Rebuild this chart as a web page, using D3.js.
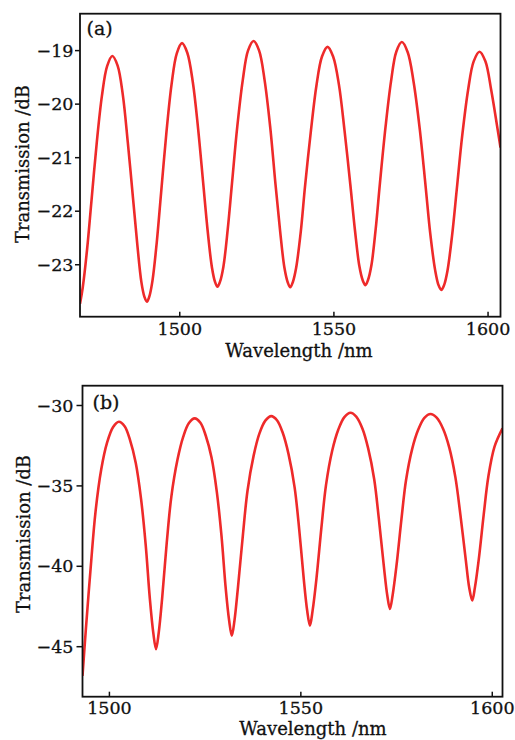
<!DOCTYPE html>
<html><head><meta charset="utf-8">
<script src="https://cdn.jsdelivr.net/npm/d3@7"></script>
<style>
body{margin:0;background:#fff}
svg{display:block}
text{font-family:"DejaVu Serif",serif;fill:#111;stroke:#111;stroke-width:0.3px}
</style>
</head><body>
<svg id="chart" width="515" height="740"></svg>
<script>
// ---------- DATA ----------
const wavelengthA = [1467.8,1468.7,1470.1,1471.5,1473.2,1474.9,1476.6,1478.3,1480.0,1481.7,1483.3,1485.0,1486.4,1487.7,1488.7,1489.5,
  1490.3,1491.3,1492.7,1494.1,1495.8,1497.5,1499.2,1500.9,1502.6,1504.4,1506.1,1507.8,1509.2,1510.6,1511.6,1512.4,
  1513.2,1514.3,1515.7,1517.1,1518.8,1520.6,1522.3,1524.1,1525.9,1527.7,1529.5,1531.2,1532.7,1534.1,1535.2,1536.0,
  1536.8,1537.9,1539.4,1540.8,1542.7,1544.5,1546.3,1548.1,1549.9,1551.8,1553.6,1555.5,1557.0,1558.4,1559.5,1560.4,
  1561.2,1562.3,1563.7,1565.1,1566.9,1568.7,1570.4,1572.2,1574.1,1576.0,1578.0,1579.9,1581.4,1583.0,1584.1,1585.0,
  1585.9,1587.0,1588.5,1590.0,1591.8,1593.7,1595.5,1597.4,1599.3,1601.2,1603.1,1604.2];
const transmissionA = [-23.74,-23.43,-22.72,-21.83,-20.75,-19.86,-19.30,-19.11,-19.29,-19.84,-20.72,-21.77,-22.64,-23.33,-23.61,-23.70,
  -23.60,-23.31,-22.59,-21.67,-20.56,-19.64,-19.06,-18.87,-19.05,-19.60,-20.46,-21.51,-22.37,-23.06,-23.33,-23.42,
  -23.33,-23.05,-22.36,-21.49,-20.44,-19.56,-19.01,-18.83,-19.01,-19.57,-20.44,-21.50,-22.37,-23.06,-23.34,-23.43,
  -23.34,-23.07,-22.40,-21.54,-20.51,-19.66,-19.12,-18.94,-19.12,-19.65,-20.50,-21.52,-22.37,-23.03,-23.30,-23.39,
  -23.30,-23.03,-22.35,-21.48,-20.44,-19.58,-19.03,-18.85,-19.04,-19.59,-20.47,-21.54,-22.42,-23.11,-23.39,-23.48,
  -23.39,-23.12,-22.46,-21.61,-20.59,-19.74,-19.21,-19.03,-19.21,-19.75,-20.42,-20.82];

const wavelengthB = [1493.1,1494.0,1495.3,1496.5,1498.0,1499.5,1501.1,1502.6,1504.1,1505.5,1507.0,1508.4,1509.6,1510.7,1511.6,1512.3,
  1513.0,1513.9,1515.1,1516.3,1517.9,1519.4,1520.9,1522.4,1523.9,1525.3,1526.8,1528.2,1529.4,1530.5,1531.4,1532.1,
  1532.8,1533.7,1535.0,1536.2,1537.8,1539.3,1540.9,1542.4,1543.9,1545.4,1546.9,1548.5,1549.7,1550.9,1551.8,1552.5,
  1553.2,1554.2,1555.5,1556.7,1558.3,1559.9,1561.5,1563.1,1564.6,1566.2,1567.7,1569.3,1570.5,1571.8,1572.7,1573.4,
  1574.1,1575.1,1576.4,1577.6,1579.2,1580.8,1582.4,1584.0,1585.6,1587.3,1588.9,1590.5,1591.8,1593.2,1594.1,1594.9,
  1595.6,1596.6,1597.9,1599.1,1600.7,1602.8];
const transmissionB = [-46.84,-43.88,-39.93,-36.64,-34.00,-32.36,-31.37,-31.04,-31.32,-32.17,-33.59,-35.85,-38.68,-42.07,-44.19,-45.18,
  -44.18,-42.02,-38.58,-35.71,-33.41,-31.98,-31.12,-30.83,-31.10,-31.91,-33.26,-35.43,-38.13,-41.38,-43.40,-44.35,
  -43.39,-41.35,-38.07,-35.33,-33.15,-31.78,-30.96,-30.69,-30.95,-31.73,-33.04,-35.12,-37.73,-40.85,-42.81,-43.72,
  -42.79,-40.81,-37.63,-34.98,-32.86,-31.54,-30.75,-30.48,-30.72,-31.46,-32.68,-34.63,-37.07,-40.00,-41.83,-42.68,
  -41.83,-40.01,-37.11,-34.68,-32.74,-31.53,-30.80,-30.56,-30.79,-31.49,-32.65,-34.50,-36.82,-39.61,-41.35,-42.16,
  -41.34,-39.60,-36.80,-34.46,-32.60,-31.45];

const xTicksA = [1500, 1550, 1600];
const yTicksA = [-19, -20, -21, -22, -23];
const xTicksB = [1500, 1550, 1600];
const yTicksB = [-30, -35, -40, -45];
const xDomainA = [1467.8, 1604.2];
const yDomainA = [-23.98, -18.32];
const xDomainB = [1493.1, 1602.8];
const yDomainB = [-48.14, -28.80];
const panelLabels = ["(a)", "(b)"];
const xTitle = "Wavelength /nm";
const yTitle = "Transmission /dB";

// ---------- DRAWING ----------
const svg = d3.select("#chart");
const RED = "#ee2a2a";
const FS_TICK = 17.5, FS_TITLE = 18, FS_LABEL = 19;
const minus = d => (d < 0 ? "\u2212" + Math.abs(d) : String(d));

function panel(o) {
  const x = d3.scaleLinear().domain(o.xDomain).range([o.left, o.right]);
  const y = d3.scaleLinear().domain(o.yDomain).range([o.bottom, o.top]);
  const g = svg.append("g");

  const clipId = "clip" + o.id;
  svg.append("clipPath").attr("id", clipId).append("rect")
    .attr("x", o.left).attr("y", o.top).attr("width", o.right - o.left).attr("height", o.bottom - o.top);

  const pts = o.xs.map((w, i) => [w, o.ys[i]]);
  const line = d3.line().x(d => x(d[0])).y(d => y(d[1])).curve(d3.curveCatmullRom.alpha(0.5));
  g.append("path").attr("d", line(pts)).attr("fill", "none").attr("stroke", RED)
    .attr("stroke-width", 2.6).attr("stroke-linejoin", "round").attr("clip-path", `url(#${clipId})`);

  // x axis (ticks inward)
  const xa = g.append("g").attr("transform", `translate(0,${o.bottom})`)
    .call(d3.axisBottom(x).tickValues(o.xTicks).tickSizeInner(-5).tickSizeOuter(0).tickFormat(d3.format("d")));
  xa.select(".domain").remove();
  xa.selectAll(".tick line").attr("stroke", "#111").attr("stroke-width", 1.5);
  xa.selectAll(".tick text").attr("y", o.xLabelOff).attr("dy", "0.71em")
    .attr("font-size", FS_TICK).attr("font-family", "DejaVu Serif").attr("fill", "#111");

  // y axis (ticks outward)
  const ya = g.append("g").attr("transform", `translate(${o.left},0)`)
    .call(d3.axisLeft(y).tickValues(o.yTicks).tickSizeInner(o.yTick).tickSizeOuter(0).tickFormat(minus));
  ya.select(".domain").remove();
  ya.selectAll(".tick line").attr("stroke", "#111").attr("stroke-width", 1.5);
  ya.selectAll(".tick text").attr("x", -o.yLabelOff).attr("dy", "0.35em")
    .attr("font-size", FS_TICK).attr("font-family", "DejaVu Serif").attr("fill", "#111");

  // frame
  g.append("rect").attr("x", o.left).attr("y", o.top)
    .attr("width", o.right - o.left).attr("height", o.bottom - o.top)
    .attr("fill", "none").attr("stroke", "#111").attr("stroke-width", 1.8);

  g.append("text").attr("x", o.labelX).attr("y", o.labelY).attr("font-size", FS_LABEL).text(o.label);
  g.append("text").attr("x", o.xTitleX).attr("y", o.xTitleY).attr("text-anchor", "middle")
    .attr("font-size", FS_TITLE).text(xTitle);
  g.append("text").attr("transform", `translate(${o.yTitleX},${o.yTitleY}) rotate(-90)`)
    .attr("text-anchor", "middle").attr("font-size", FS_TITLE).text(yTitle);
}

panel({id: "A", xs: wavelengthA, ys: transmissionA, xDomain: xDomainA, yDomain: yDomainA,
  xTicks: xTicksA, yTicks: yTicksA, left: 80, right: 500.5, top: 13.7, bottom: 316.7,
  xLabelOff: 5.5, yLabelOff: 6.5, yTick: 5, label: panelLabels[0], labelX: 86.5, labelY: 34.5,
  xTitleX: 299, xTitleY: 356.5, yTitleX: 28.5, yTitleY: 164});

panel({id: "B", xs: wavelengthB, ys: transmissionB, xDomain: xDomainB, yDomain: yDomainB,
  xTicks: xTicksB, yTicks: yTicksB, left: 82.5, right: 502.5, top: 385.7, bottom: 696.7,
  xLabelOff: 5.0, yLabelOff: 9, yTick: 6, label: panelLabels[1], labelX: 92.5, labelY: 408.5,
  xTitleX: 313, xTitleY: 735.3, yTitleX: 30, yTitleY: 534});
</script>
</body></html>
